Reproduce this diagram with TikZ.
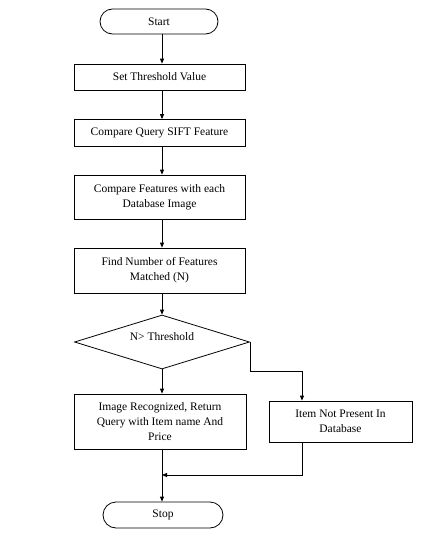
\documentclass[tikz,border=0pt]{standalone}
\usepackage{fontspec}
\setmainfont{Liberation Serif}
\usetikzlibrary{shapes.geometric,arrows.meta}
\begin{document}
\begin{tikzpicture}[x=1pt,y=-1pt,
  every node/.style={font=\fontsize{11.5}{15}\selectfont, align=center, inner sep=0pt},
  procbox/.style={draw, line width=0.8pt, rectangle},
  termbox/.style={draw, line width=0.8pt, rectangle, rounded corners=12.5pt},
  decbox/.style={draw, line width=0.8pt, diamond, minimum width=175pt, minimum height=54pt},
  arr/.style={draw, line width=0.8pt, -{Triangle[length=5pt,width=4pt]}},
  ln/.style={draw, line width=0.8pt}]
\useasboundingbox (0,0) rectangle (432,533);
\fill[white] (0,0) rectangle (432,533);
\coordinate (ax) at (162,0);
\node[termbox, minimum width=118pt, minimum height=25pt] (start) at (159,21.5) {Start};
\node[procbox, minimum width=171pt, minimum height=26pt] (set) at (159.5,77) {Set Threshold Value};
\node[procbox, minimum width=171pt, minimum height=27pt] (cq) at (159.5,133) {Compare Query SIFT Feature};
\node[procbox, minimum width=171pt, minimum height=44pt] (cf) at (159.5,197) {Compare Features with each\\Database Image};
\node[procbox, minimum width=171pt, minimum height=45pt] (fn) at (159.5,270.5) {Find Number of Features\\Matched (N)};
\node[decbox] (dia) at (162,342) {};
\node (dtext) at (162,337) {N> Threshold};
\node[procbox, minimum width=172pt, minimum height=55pt] (img) at (160,421.5) {Image Recognized,\ Return\\Query with Item name And\\Price};
\node[procbox, minimum width=143pt, minimum height=41pt] (item) at (340.5,421.5) {Item Not Present In\\Database};
\node[termbox, minimum width=120pt, minimum height=26pt, rounded corners=13pt] (stop) at (163,515) {Stop};
\coordinate (j1) at (302,371);
\coordinate (j2) at (162,475);
\draw[arr] (start.south -| ax) -- (set.north -| ax);
\draw[arr] (set.south -| ax) -- (cq.north -| ax);
\draw[arr] (cq.south -| ax) -- (cf.north -| ax);
\draw[arr] (cf.south -| ax) -- (fn.north -| ax);
\draw[arr] (fn.south -| ax) -- (dia.north);
\draw[arr] (dia.south) -- (img.north -| ax);
\draw[arr] (dia.east) |- (j1) -- (item.north -| j1);
\draw[arr] (item.south -| j1) |- (j2);
\draw[arr] (img.south -| ax) -- (stop.north -| ax);
\end{tikzpicture}
\end{document}
